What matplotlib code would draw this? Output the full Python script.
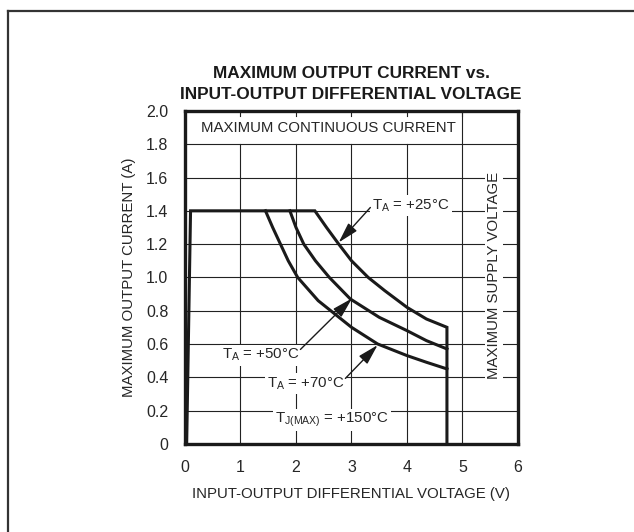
import matplotlib
matplotlib.use("Agg")
import matplotlib.pyplot as plt
from matplotlib.lines import Line2D

plt.rcParams['font.family'] = ['Liberation Sans', 'DejaVu Sans']

# Envelope: dropout rise, 1.4A continuous limit, T_A=+25C curve, supply voltage drop
env_x = [0.03, 0.10, 2.34, 2.55, 2.77, 3.00, 3.30, 3.60, 4.00, 4.35, 4.72, 4.72]
env_y = [0.00, 1.40, 1.40, 1.30, 1.20, 1.10, 1.00, 0.92, 0.82, 0.75, 0.70, 0.00]

# T_A = +50C
t50_x = [1.89, 2.00, 2.14, 2.35, 2.60, 2.98, 3.50, 4.00, 4.35, 4.72]
t50_y = [1.40, 1.30, 1.20, 1.10, 1.00, 0.87, 0.76, 0.68, 0.62, 0.57]

# T_A = +70C
t70_x = [1.45, 1.58, 1.72, 1.86, 2.03, 2.40, 3.00, 3.47, 4.00, 4.35, 4.72]
t70_y = [1.40, 1.30, 1.20, 1.10, 1.00, 0.86, 0.70, 0.60, 0.53, 0.49, 0.45]

x_ticks = [0, 1, 2, 3, 4, 5, 6]
y_ticks = [0, 0.2, 0.4, 0.6, 0.8, 1.0, 1.2, 1.4, 1.6, 1.8, 2.0]
y_ticklabels = ['0', '0.2', '0.4', '0.6', '0.8', '1.0', '1.2', '1.4', '1.6', '1.8', '2.0']

fig = plt.figure(figsize=(6.34, 5.32), dpi=100)

# page frame lines (top and left)
fig.add_artist(Line2D([8 / 634, 1], [1 - 11 / 532, 1 - 11 / 532], color='#333333', lw=1.6,
                      transform=fig.transFigure))
fig.add_artist(Line2D([8 / 634, 8 / 634], [0, 1 - 11 / 532], color='#333333', lw=1.6,
                      transform=fig.transFigure))

ax = fig.add_axes([0.2918, 0.1658, 0.5252, 0.6256])
ax.set_xlim(0, 6)
ax.set_ylim(0, 2.0)

grid_kw = dict(color='#222222', lw=0.8, zorder=1)
for x in x_ticks[1:-1]:
    top = 2.0 if x == 5 else 1.8
    ax.plot([x, x], [0, top], **grid_kw)
    ax.plot([x, x], [1.97, 2.0], **grid_kw)
for y in y_ticks[1:-1]:
    ax.plot([0, 6], [y, y], **grid_kw)

line_kw = dict(color='#1a1a1a', lw=2.2, zorder=3, solid_joinstyle='miter')
ax.plot(env_x, env_y, **line_kw)
ax.plot(t50_x, t50_y, **line_kw)
ax.plot(t70_x, t70_y, **line_kw)

box = dict(facecolor='white', edgecolor='none', pad=1.5)
fs = 10.8
tc = '#262626'

ax.text(0.29, 1.895, 'MAXIMUM CONTINUOUS CURRENT', fontsize=fs, va='center', ha='left',
        color=tc, zorder=2)
ax.text(5.57, 1.01, 'MAXIMUM SUPPLY VOLTAGE', fontsize=fs, va='center', ha='center',
        rotation=90, color=tc, bbox=box, zorder=2)

# curve labels
ax.text(4.07, 1.434, r'T$_\mathregular{A}$ = +25°C', fontsize=fs, ha='center', va='center',
        color=tc, bbox=box, zorder=4)
ax.text(1.36, 0.533, r'T$_\mathregular{A}$ = +50°C', fontsize=fs, ha='center', va='center',
        color=tc, bbox=box, zorder=4)
ax.text(2.17, 0.363, r'T$_\mathregular{A}$ = +70°C', fontsize=fs, ha='center', va='center',
        color=tc, bbox=box, zorder=4)
ax.text(2.65, 0.143, r'T$_\mathregular{J(MAX)}$ = +150°C', fontsize=fs, ha='center',
        va='center', color=tc, bbox=box, zorder=4)

arrow = dict(arrowstyle='-|>,head_length=0.9,head_width=0.25', color='#1a1a1a', lw=1.0,
             mutation_scale=14, shrinkA=0, shrinkB=0)
ax.annotate('', xy=(2.77, 1.21), xytext=(3.34, 1.42), arrowprops=arrow, zorder=5)
ax.annotate('', xy=(3.01, 0.874), xytext=(2.08, 0.567), arrowprops=arrow, zorder=5)
ax.annotate('', xy=(3.47, 0.593), xytext=(2.89, 0.393), arrowprops=arrow, zorder=5)

for s in ax.spines.values():
    s.set_linewidth(2.4)
    s.set_color('#1a1a1a')
    s.set_zorder(5)

ax.set_xticks(x_ticks)
ax.set_yticks(y_ticks)
ax.set_yticklabels(y_ticklabels)
ax.tick_params(length=0, pad=12, labelsize=11.5, labelcolor=tc)

ax.set_xlabel('INPUT-OUTPUT DIFFERENTIAL VOLTAGE (V)', fontsize=fs, color=tc, labelpad=8)
ax.set_ylabel('MAXIMUM OUTPUT CURRENT (A)', fontsize=fs, color=tc, labelpad=7)

fig.text(0.5536, 1 - 84 / 532, 'MAXIMUM OUTPUT CURRENT vs.\nINPUT-OUTPUT DIFFERENTIAL VOLTAGE',
         ha='center', va='center', fontsize=12.4, fontweight='bold', linespacing=1.5,
         color='#1a1a1a')

fig.savefig('out.png', dpi=100)
